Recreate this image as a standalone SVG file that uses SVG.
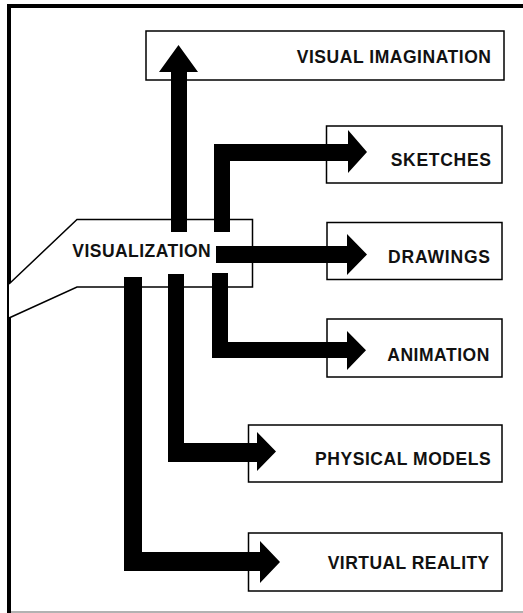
<svg xmlns="http://www.w3.org/2000/svg" width="523" height="613" viewBox="0 0 523 613">
<style>
.box{fill:#fff;stroke:#000;stroke-width:1.5}
.lbl{font-family:"Liberation Sans",Arial,sans-serif;font-weight:bold;font-size:17.5px;fill:#111}
.arr{fill:#000;stroke:none}
</style>
<rect x="0" y="0" width="523" height="613" fill="#fff"/>
<g id="frame">
<line x1="9" y1="4" x2="9" y2="613" stroke="#000" stroke-width="4"/>
<line x1="7" y1="6" x2="523" y2="6" stroke="#000" stroke-width="4"/>
<line x1="11" y1="612" x2="523" y2="612" stroke="#999" stroke-width="1.5"/>
</g>
<g id="visualization">
<path class="box" d="M9,284 L77,219.5 L252.5,219.5 L252.5,287 L77,287 L9,318"/>
<text class="lbl" x="72.3" y="256.7" textLength="138.4" lengthAdjust="spacing">VISUALIZATION</text>
</g>
<g id="visual-imagination">
<rect class="box" x="146" y="31" width="358" height="49"/>
<text class="lbl" x="296.7" y="63" textLength="194.3" lengthAdjust="spacing">VISUAL IMAGINATION</text>
</g>
<g id="sketches">
<rect class="box" x="326.5" y="126" width="175.5" height="57"/>
<text class="lbl" x="390.7" y="165.7" textLength="100.3" lengthAdjust="spacing">SKETCHES</text>
</g>
<g id="drawings">
<rect class="box" x="327" y="222.5" width="175" height="57"/>
<text class="lbl" x="388" y="263" textLength="102" lengthAdjust="spacing">DRAWINGS</text>
</g>
<g id="animation">
<rect class="box" x="327" y="319" width="175" height="58"/>
<text class="lbl" x="387.3" y="361" textLength="102" lengthAdjust="spacing">ANIMATION</text>
</g>
<g id="physical-models">
<rect class="box" x="248.5" y="425" width="253.5" height="57"/>
<text class="lbl" x="315" y="465" textLength="175.7" lengthAdjust="spacing">PHYSICAL MODELS</text>
</g>
<g id="virtual-reality">
<rect class="box" x="248.5" y="533" width="253.5" height="58"/>
<text class="lbl" x="327.7" y="569" textLength="161.6" lengthAdjust="spacing">VIRTUAL REALITY</text>
</g>
<g id="connectors">
<polygon class="arr" points="171,232 171,72 159,72 178.5,45 198,72 187,72 187,232"/>
<polygon class="arr" points="214,232 214,144 348,144 348,130 367,152 348,173 348,161 230,161 230,232"/>
<polygon class="arr" points="216,246 347,246 347,234 367,254.5 347,275 347,263 216,263"/>
<polygon class="arr" points="212,273 212,358 347,358 347,370 366,350.3 347,331 347,342 228,342 228,273"/>
<polygon class="arr" points="168,274 168,462 257,462 257,471 276,451.5 257,432 257,443 184,443 184,274"/>
<polygon class="arr" points="124,277 124,571 260,571 260,583 280,562 260,541 260,552 142,552 142,277"/>
</g>
</svg>
